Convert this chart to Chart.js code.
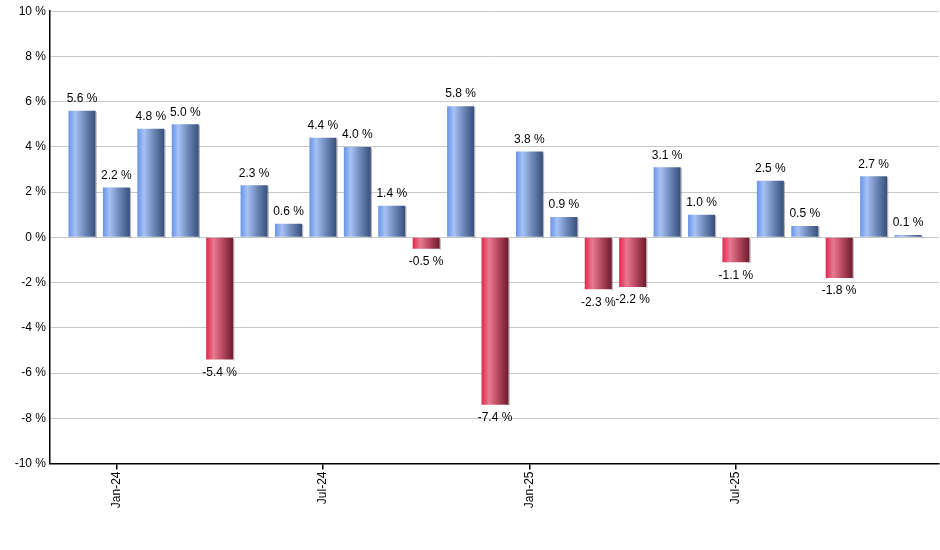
<!DOCTYPE html>
<html>
<head>
<meta charset="utf-8">
<script src="https://cdn.jsdelivr.net/npm/chart.js@4"></script>
<style>
  html, body { margin: 0; padding: 0; background: #fff; }
  #wrap { width: 940px; height: 550px; position: relative; }
</style>
</head>
<body>
<div id="wrap"><canvas id="c"></canvas></div>
<script>
const months = ['Dec-23','Jan-24','Feb-24','Mar-24','Apr-24','May-24','Jun-24','Jul-24','Aug-24','Sep-24','Oct-24','Nov-24','Dec-24',
                'Jan-25','Feb-25','Mar-25','Apr-25','May-25','Jun-25','Jul-25','Aug-25','Sep-25','Oct-25','Nov-25','Dec-25'];
const returns = [5.6, 2.2, 4.8, 5.0, -5.4, 2.3, 0.6, 4.4, 4.0, 1.4, -0.5, 5.8, -7.4,
                 3.8, 0.9, -2.3, -2.2, 3.1, 1.0, -1.1, 2.5, 0.5, -1.8, 2.7, 0.1];
const tickMonths = ['Jan-24', 'Jul-24', 'Jan-25', 'Jul-25'];
const yTicks = [-10, -8, -6, -4, -2, 0, 2, 4, 6, 8, 10];

Chart.defaults.font.family = '"Liberation Sans", Arial, sans-serif';
Chart.defaults.font.size = 12;
Chart.defaults.color = '#000';

const BAR_HALF = 13.5;
function barFill(ctx) {
  const chart = ctx.chart;
  const v = ctx.raw ? ctx.raw.y : 0;
  const xs = chart.scales && chart.scales.x;
  if (!chart.chartArea || !xs) return v < 0 ? '#c0405a' : '#6f8fd0';
  const cx = xs.getPixelForValue(ctx.dataIndex);
  const g = chart.ctx.createLinearGradient(cx - BAR_HALF, 0, cx + BAR_HALF, 0);
  if (v < 0) {
    g.addColorStop(0, '#e0284f');
    g.addColorStop(0.28, '#e87a90');
    g.addColorStop(0.6, '#b84a62');
    g.addColorStop(1, '#6e1a2c');
  } else {
    g.addColorStop(0, '#6a94e8');
    g.addColorStop(0.25, '#a6c2f6');
    g.addColorStop(0.6, '#6e88b8');
    g.addColorStop(1, '#364f7c');
  }
  return g;
}

const valueLabels = {
  id: 'valueLabels',
  afterDatasetsDraw(chart) {
    const c = chart.ctx;
    const meta = chart.getDatasetMeta(0);
    c.save();
    c.font = '12px "Liberation Sans", Arial, sans-serif';
    c.fillStyle = '#000';
    c.textAlign = 'center';
    c.textBaseline = 'middle';
    meta.data.forEach((el, i) => {
      const v = returns[i];
      const y = v >= 0 ? el.y - 12 : el.y + 13;
      c.fillText(v.toFixed(1) + ' %', el.x, y);
    });
    c.restore();
  }
};

const barShadow = {
  id: 'barShadow',
  beforeDatasetsDraw(chart) {
    const c = chart.ctx;
    const meta = chart.getDatasetMeta(0);
    c.save();
    c.fillStyle = 'rgba(120,120,120,0.55)';
    meta.data.forEach((el) => {
      const top = Math.min(el.y, el.base), bot = Math.max(el.y, el.base);
      c.fillRect(el.x + el.width / 2, top + 1, 1.2, bot - top);
    });
    c.restore();
  }
};

new Chart(document.getElementById('c'), {
  type: 'bar',
  data: {
    datasets: [{
      data: returns.map((v, i) => ({ x: i, y: v })),
      backgroundColor: barFill,
      borderWidth: 0,
      categoryPercentage: 1,
      barPercentage: 0.785
    }]
  },
  options: {
    responsive: true,
    maintainAspectRatio: false,
    animation: false,
    devicePixelRatio: 1,
    layout: { padding: { top: 10, right: 1, left: 0, bottom: 0 } },
    plugins: { legend: { display: false }, tooltip: { enabled: false } },
    scales: {
      x: {
        type: 'linear',
        offset: false,
        min: -0.93,
        max: 24.9,
        afterBuildTicks(scale) {
          scale.ticks = tickMonths.map(m => ({ value: months.indexOf(m) }));
        },
        afterFit(scale) { scale.height = 86.5; },
        ticks: {
          autoSkip: false,
          maxRotation: 90,
          minRotation: 90,
          padding: 2,
          color: '#000',
          callback: (v) => months[v] || ''
        },
        grid: {
          offset: false,
          drawOnChartArea: false,
          drawTicks: true,
          tickLength: 6,
          color: '#000',
          lineWidth: 1.5
        },
        border: { color: '#000', width: 1.5 }
      },
      y: {
        min: -10,
        max: 10,
        afterBuildTicks(scale) {
          scale.ticks = yTicks.map(v => ({ value: v }));
        },
        afterFit(scale) { scale.width = 50; },
        ticks: {
          padding: 4,
          color: '#000',
          callback: (v) => v + ' %'
        },
        grid: {
          color: '#c8c8c8',
          drawTicks: false,
          lineWidth: 1
        },
        border: { color: '#000', width: 1.5 }
      }
    }
  },
  plugins: [barShadow, valueLabels]
});
</script>
</body>
</html>
